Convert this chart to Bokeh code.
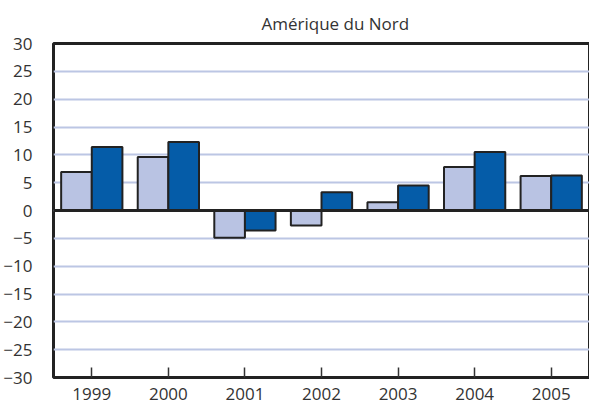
from bokeh.plotting import figure
from bokeh.models import ColumnDataSource, FixedTicker, Span, Title
from bokeh.transform import dodge
from bokeh.embed import file_html
from bokeh.resources import INLINE

years = ["1999", "2000", "2001", "2002", "2003", "2004", "2005"]
series_a = [6.9, 9.6, -4.9, -2.7, 1.5, 7.8, 6.2]
series_b = [11.4, 12.3, -3.6, 3.3, 4.5, 10.5, 6.3]
y_ticks = [-30, -25, -20, -15, -10, -5, 0, 5, 10, 15, 20, 25, 30]
title_text = "Amérique du Nord"

FONT = "Open Sans"
TXT = "#333333"

src = ColumnDataSource(dict(year=years, a=series_a, b=series_b))

p = figure(x_range=years, y_range=(-30, 30), frame_width=536, frame_height=334,
           output_backend="svg", toolbar_location=None,
           min_border_left=44, min_border_right=1, min_border_top=36,
           min_border_bottom=6)
p.x_range.range_padding = 0

t = Title(text=title_text, align="left", offset=208,
          text_font=FONT, text_font_size="17px", text_font_style="normal",
          text_color=TXT, standoff=18)
p.add_layout(t, "above")

p.vbar(x=dodge("year", -0.2, range=p.x_range), top="a", width=0.4, source=src,
       fill_color="#B9C3E3", line_color="#222222", line_width=2)
p.vbar(x=dodge("year", 0.2, range=p.x_range), top="b", width=0.4, source=src,
       fill_color="#055CA8", line_color="#222222", line_width=2)

p.add_layout(Span(location=0, dimension="width", line_color="#222222", line_width=3))

p.outline_line_color = "#222222"
p.outline_line_width = 3
p.outline_line_alpha = 1

p.xgrid.grid_line_color = None
p.ygrid.grid_line_color = "#BCC6E4"
p.ygrid.grid_line_width = 2
p.yaxis.ticker = FixedTicker(ticks=y_ticks)

for ax in (p.xaxis, p.yaxis):
    ax.axis_line_color = None
    ax.major_label_text_font = FONT
    ax.major_label_text_font_size = "17px"
    ax.major_label_text_color = TXT
    ax.minor_tick_line_color = None

p.yaxis.major_tick_line_color = None
p.yaxis.major_label_standoff = 15
p.xaxis.major_tick_in = 10
p.xaxis.major_tick_out = 0
p.xaxis.major_tick_line_color = "#333333"
p.xaxis.major_tick_line_width = 1.5
p.xaxis.major_label_standoff = 10

p.background_fill_color = "white"
p.border_fill_color = "white"

open("out.html", "w").write(file_html(p, INLINE))
